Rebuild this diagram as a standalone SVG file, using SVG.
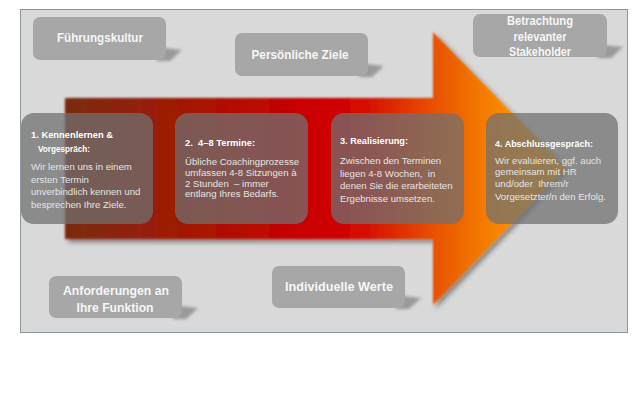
<svg xmlns="http://www.w3.org/2000/svg" width="640" height="409" viewBox="0 0 640 409">
<style>
.lbox{fill:#a7a7a7}
.lsh{fill:#9a9a9a;filter:url(#blur)}
.ltxt{font-family:"Liberation Sans",Arial,sans-serif;font-weight:bold;font-size:12px;fill:#f6f6f6;text-anchor:middle}
.sbox{fill:#707070;fill-opacity:0.74}
.stit{font-family:"Liberation Sans",Arial,sans-serif;font-weight:bold;font-size:9.6px;fill:#ffffff;white-space:pre}
.sbody{font-family:"Liberation Sans",Arial,sans-serif;font-size:9.6px;fill:#e4e4e4;white-space:pre}
</style>
<defs>
<linearGradient id="ag" gradientUnits="userSpaceOnUse" x1="65" y1="0" x2="565" y2="0">
<stop offset="0" stop-color="#7a2c10"/>
<stop offset="0.2" stop-color="#9c1c06"/>
<stop offset="0.47" stop-color="#c80000"/>
<stop offset="0.59" stop-color="#d40800"/>
<stop offset="0.736" stop-color="#e85000"/>
<stop offset="0.82" stop-color="#f27400"/>
<stop offset="0.91" stop-color="#ff9400"/>
<stop offset="1" stop-color="#ffa000"/>
</linearGradient>
<filter id="ash" x="-10%" y="-10%" width="120%" height="120%">
<feGaussianBlur in="SourceGraphic" stdDeviation="0.8" result="b"/>
<feDropShadow in="b" dx="3" dy="3" stdDeviation="2.5" flood-color="#000" flood-opacity="0.45"/>
</filter>
<filter id="blur" x="-50%" y="-50%" width="200%" height="200%">
<feGaussianBlur stdDeviation="1.6"/>
</filter>
</defs>

<rect x="20.5" y="9.5" width="607" height="323" fill="#d9d9d9" stroke="#8d97a8" stroke-width="1"/>

<g id="process-arrow">
<path d="M65,98 L433,98 L433,32 L565,168 L433,305 L433,239 L65,239 Z" fill="url(#ag)" filter="url(#ash)"/>
</g>

<g id="fuehrungskultur">
<path class="lsh" d="M156,61 L164,48 L182,50 L170,61 Z"/>
<rect class="lbox" x="33" y="17" width="133" height="43" rx="7"/>
<text class="ltxt" x="100" y="42" textLength="86" lengthAdjust="spacingAndGlyphs">Führungskultur</text>
</g>

<g id="persoenliche-ziele">
<path class="lsh" d="M358,77 L366,64 L384,66 L372,77 Z"/>
<rect class="lbox" x="235" y="33" width="133" height="43" rx="7"/>
<text class="ltxt" x="300" y="59" textLength="97" lengthAdjust="spacingAndGlyphs">Persönliche Ziele</text>
</g>

<g id="stakeholder">
<path class="lsh" d="M597,58 L605,45 L623,47 L611,58 Z"/>
<rect class="lbox" x="473" y="14" width="134" height="43" rx="7"/>
<text class="ltxt" x="540" y="25" textLength="66" lengthAdjust="spacingAndGlyphs">Betrachtung</text>
<text class="ltxt" x="540" y="40.5" textLength="53" lengthAdjust="spacingAndGlyphs">relevanter</text>
<text class="ltxt" x="540" y="56" textLength="62" lengthAdjust="spacingAndGlyphs">Stakeholder</text>
</g>

<g id="anforderungen">
<path class="lsh" d="M172,319 L180,306 L198,308 L186,319 Z"/>
<rect class="lbox" x="49" y="276" width="133" height="42" rx="7"/>
<text class="ltxt" x="116" y="294.5" textLength="106" lengthAdjust="spacingAndGlyphs">Anforderungen  an</text>
<text class="ltxt" x="115" y="311.5" textLength="77" lengthAdjust="spacingAndGlyphs">Ihre Funktion</text>
</g>

<g id="individuelle-werte">
<path class="lsh" d="M395,309 L403,296 L421,298 L409,309 Z"/>
<rect class="lbox" x="272" y="266" width="133" height="42" rx="7"/>
<text class="ltxt" x="339" y="291" textLength="108" lengthAdjust="spacingAndGlyphs">Individuelle  Werte</text>
</g>

<g id="step1">
<rect class="sbox" x="21" y="113" width="132" height="111" rx="13"/>
<text class="stit" x="31" y="137.5" textLength="82" lengthAdjust="spacingAndGlyphs">1. Kennenlernen &amp;</text>
<text class="stit" x="38" y="151.5" textLength="52" lengthAdjust="spacingAndGlyphs">Vorgespräch:</text>
<text class="sbody" x="31" y="170">Wir lernen uns in einem</text>
<text class="sbody" x="31" y="182.5">ersten Termin</text>
<text class="sbody" x="31" y="195">unverbindlich kennen und</text>
<text class="sbody" x="31" y="207.5">besprechen Ihre Ziele.</text>
</g>

<g id="step2">
<rect class="sbox" x="175" y="113" width="133" height="111" rx="13"/>
<text class="stit" x="185" y="145.5" textLength="70" lengthAdjust="spacingAndGlyphs">2.  4–8 Termine:</text>
<text class="sbody" x="185" y="164.5">Übliche Coachingprozesse</text>
<text class="sbody" x="185" y="175.5">umfassen 4-8 Sitzungen à</text>
<text class="sbody" x="185" y="186.5">2 Stunden  – immer</text>
<text class="sbody" x="185" y="197">entlang Ihres Bedarfs.</text>
</g>

<g id="step3">
<rect class="sbox" x="331" y="113" width="133" height="111" rx="13"/>
<text class="stit" x="340" y="144" textLength="68" lengthAdjust="spacingAndGlyphs">3. Realisierung:</text>
<text class="sbody" x="340" y="164">Zwischen den Terminen</text>
<text class="sbody" x="340" y="176.5">liegen 4-8 Wochen,  in</text>
<text class="sbody" x="340" y="189">denen Sie die erarbeiteten</text>
<text class="sbody" x="340" y="201.5">Ergebnisse umsetzen.</text>
</g>

<g id="step4">
<rect class="sbox" x="486" y="113" width="132" height="111" rx="13"/>
<text class="stit" x="495" y="146.5" textLength="98" lengthAdjust="spacingAndGlyphs">4. Abschlussgespräch:</text>
<text class="sbody" x="495" y="163.5">Wir evaluieren, ggf. auch</text>
<text class="sbody" x="495" y="174.5">gemeinsam mit HR</text>
<text class="sbody" x="495" y="186.5">und/oder  Ihrem/r</text>
<text class="sbody" x="495" y="199.5">Vorgesetzter/n den Erfolg.</text>
</g>

<g id="connectors"/>
</svg>
